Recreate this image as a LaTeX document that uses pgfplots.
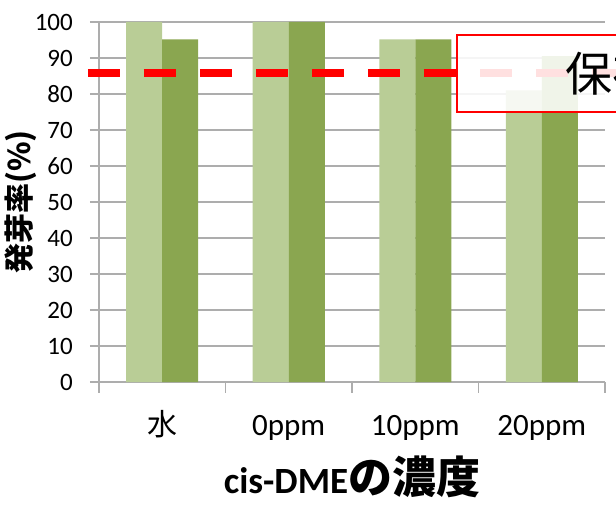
\documentclass[border=0pt]{standalone}
\usepackage{pgfplots}
\pgfplotsset{compat=1.18}
\usepackage{fontspec}
\setmainfont{Carlito}
\newfontfamily\cjk{Noto Sans CJK JP}
\definecolor{lightg}{HTML}{B9CD96}
\definecolor{darkg}{HTML}{8AA650}
\definecolor{gridg}{HTML}{ADADAD}

\begin{document}
\begin{tikzpicture}
\begin{axis}[
    scale only axis,
    width=506pt, height=360pt,
    xmin=-0.5, xmax=3.5,
    ymin=0, ymax=100,
    clip=false,
    axis x line*=bottom,
    axis y line*=left,
    axis line style={gridg, line width=1.5pt, -},
    ytick={0,10,...,100},
    ymajorgrids=true,
    grid style={gridg, line width=1.5pt},
    tick align=outside,
    major tick length=9pt,
    minor tick length=11pt,
    major x tick style={draw=none},
    minor x tick style={gridg, line width=1.5pt},
    major y tick style={gridg, line width=1.5pt},
    xtick={0,1,2,3},
    minor xtick={-0.5,0.5,1.5,2.5,3.5},
    xticklabels={{\cjk\fontsize{30}{34}\selectfont 水},0ppm,10ppm,20ppm},
    xticklabel style={font=\fontsize{31}{35}\selectfont, anchor=base, inner sep=0pt, yshift=-44pt},
    yticklabel style={font=\fontsize{25}{29}\selectfont, anchor=east, inner sep=0pt, xshift=-17pt},
    /pgf/number format/assume math mode=true,
    xlabel={{\bfseries\fontsize{37}{42}\selectfont cis-DME}{\cjk\bfseries\fontsize{44}{48}\selectfont の濃度}},
    every axis x label/.style={at={(axis description cs:0.5,0)}, anchor=base, yshift=-111pt},
    ylabel={\cjk\bfseries\fontsize{30}{34}\selectfont 発芽率(\%)},
    every axis y label/.style={at={(axis description cs:0,0.5)}, xshift=-78pt, rotate=90, anchor=center},
]
% light green series
\addplot[ybar, bar width=36pt, bar shift=-18pt, fill=lightg, draw=none]
    coordinates {(0,100) (1,100) (2,95.2) (3,81.0)};
% dark green series
\addplot[ybar, bar width=36pt, bar shift=18pt, fill=darkg, draw=none]
    coordinates {(0,95.2) (1,100) (2,95.2) (3,90.5)};
% reference level
\addplot[red, line width=8pt, dash pattern=on 32pt off 24pt]
    coordinates {(-0.587,85.7) (3.62,85.7)};
\coordinate (bl) at (axis cs:2.330,75.0);
\coordinate (tr) at (axis cs:3.80,96.4);
\end{axis}
\draw[red, line width=2pt, fill=white, fill opacity=0.88] (bl) rectangle (tr);
\node[anchor=west, inner sep=0pt] at (466pt,308.5pt) {\cjk\fontsize{47}{50}\selectfont 保存};
\pgfresetboundingbox
\useasboundingbox (-99pt,-124pt) rectangle (517pt,382pt);
\end{tikzpicture}
\end{document}
